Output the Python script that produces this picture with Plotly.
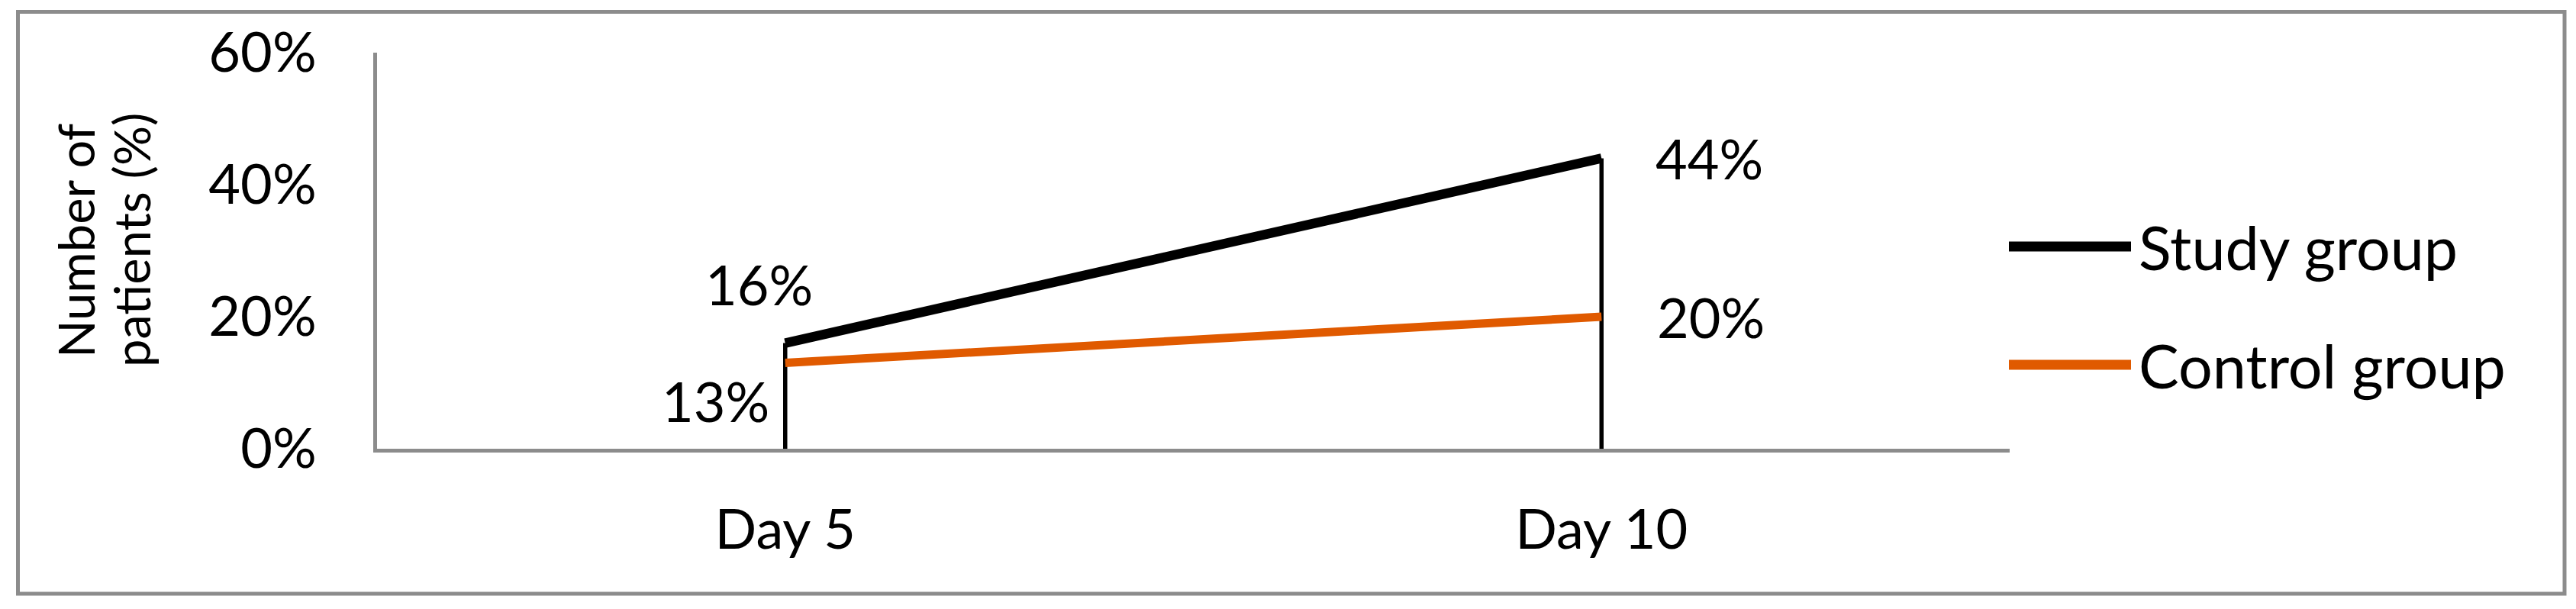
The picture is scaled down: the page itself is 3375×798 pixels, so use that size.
import plotly.graph_objects as go

# ---- data ----
categories = ["Day 5", "Day 10"]
study_group = [16, 44]
control_group = [13, 20]
series_names = ["Study group", "Control group"]
y_tick_values = [0, 20, 40, 60]
y_tick_labels = ["0%", "20%", "40%", "60%"]
y_title_lines = ["Number of", "patients (%)"]

# ---- geometry (pixels) ----
W, H = 3375, 798
L, R, T, B = 494, 2633, 69, 588
PW, PH = R - L, B - T

def px(x):
    return (x - L) / PW

def py(y):
    return (B - y) / PH

BLACK = "#000000"
ORANGE = "#E05A00"
GRAY = "#8C8C8C"
FONT = "Lato"

fig = go.Figure()

# drop lines from the highest point at each category down to the axis
drop_x, drop_y = [], []
for c, a, b in zip(categories, study_group, control_group):
    drop_x += [c, c, None]
    drop_y += [0, max(a, b), None]
fig.add_trace(go.Scatter(x=drop_x, y=drop_y, mode="lines",
                         line=dict(color=BLACK, width=5.5),
                         showlegend=False, hoverinfo="skip"))

fig.add_trace(go.Scatter(x=categories, y=control_group, mode="lines",
                         name=series_names[1],
                         line=dict(color=ORANGE, width=11), showlegend=False))
fig.add_trace(go.Scatter(x=categories, y=study_group, mode="lines",
                         name=series_names[0],
                         line=dict(color=BLACK, width=12.5), showlegend=False))

# data labels
study_offsets = [(-34, 78), (141, 0)]
control_offsets = [(-91, -49), (143, 0)]
for c, v, (dx, dy) in zip(categories, study_group, study_offsets):
    fig.add_annotation(x=c, y=v, text=f"{v}%", showarrow=False,
                       xshift=dx, yshift=dy, xanchor="center", yanchor="middle",
                       font=dict(family=FONT, size=72, color=BLACK))
for c, v, (dx, dy) in zip(categories, control_group, control_offsets):
    fig.add_annotation(x=c, y=v, text=f"{v}%", showarrow=False,
                       xshift=dx, yshift=dy, xanchor="center", yanchor="middle",
                       font=dict(family=FONT, size=72, color=BLACK))

# y axis title (two lines, rotated)
for line_text, xx in zip(y_title_lines, [99, 172]):
    fig.add_annotation(xref="paper", yref="paper", x=px(xx), y=py(315),
                       text=line_text, textangle=-90,
                       showarrow=False, xanchor="center", yanchor="middle",
                       font=dict(family=FONT, size=65, color=BLACK))

# custom legend
legend_rows = [(series_names[0], BLACK, 323), (series_names[1], ORANGE, 478)]
for name, color, yy in legend_rows:
    fig.add_shape(type="line", xref="paper", yref="paper",
                  x0=px(2632), x1=px(2792), y0=py(yy), y1=py(yy),
                  line=dict(color=color, width=13))
    fig.add_annotation(xref="paper", yref="paper", x=px(2800), y=py(yy),
                       text=name, showarrow=False, xanchor="left", yanchor="middle",
                       font=dict(family=FONT, size=79, color=BLACK))

# outer frame
fig.add_shape(type="rect", xref="paper", yref="paper",
              x0=px(23.5), x1=px(3360), y0=py(778), y1=py(15.5),
              line=dict(color=GRAY, width=5), layer="below")

fig.update_layout(
    width=W, height=H,
    margin=dict(l=L, r=W - R, t=T, b=H - B),
    paper_bgcolor="white", plot_bgcolor="white",
    showlegend=False,
    font=dict(family=FONT, size=72, color=BLACK),
)
fig.update_xaxes(type="category", categoryorder="array", categoryarray=categories,
                 range=[-0.5, 1.5], showline=True, linecolor=GRAY, linewidth=5,
                 showgrid=False, zeroline=False, ticks="",
                 ticklabelstandoff=40,
                 tickfont=dict(family=FONT, size=72, color=BLACK))
fig.update_yaxes(range=[0, 60], tickvals=y_tick_values, ticktext=y_tick_labels,
                 showline=True, linecolor=GRAY, linewidth=5,
                 showgrid=False, zeroline=False, ticks="",
                 ticklabelstandoff=60,
                 tickfont=dict(family=FONT, size=72, color=BLACK))

fig.write_html("out.html",
               config={"displayModeBar": False},
               post_script="document.body.style.margin='0';document.body.style.overflow='hidden';")
